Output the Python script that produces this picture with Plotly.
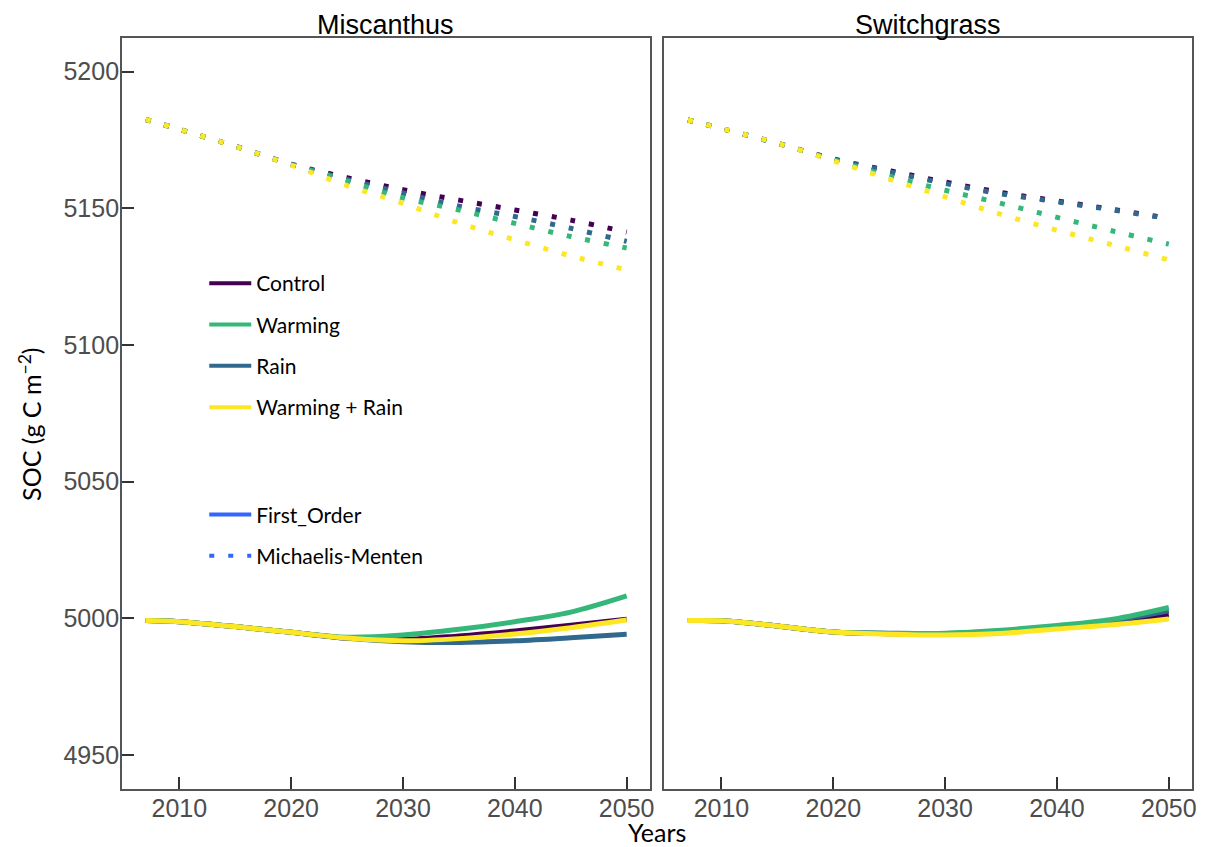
import plotly.graph_objects as go

# Simulation years
years = [2007, 2010, 2015, 2020, 2025, 2030, 2035, 2040, 2045, 2050]

treatments = ["Control", "Rain", "Warming", "Warming + Rain"]
legend_order = ["Control", "Warming", "Rain", "Warming + Rain"]
colors = {
    "Control": "#440154",
    "Rain": "#31688E",
    "Warming": "#35B779",
    "Warming + Rain": "#FDE725",
}

# Miscanthus, first-order kinetics (g C m-2)
misc_fo_control = [4999.2, 4998.8, 4997.0, 4994.9, 4992.8, 4992.3, 4993.6, 4995.4, 4997.5, 4999.7]
misc_fo_rain = [4999.2, 4998.8, 4997.0, 4994.9, 4992.7, 4991.5, 4991.2, 4991.8, 4992.9, 4994.2]
misc_fo_warming = [4999.2, 4998.8, 4997.0, 4994.9, 4993.1, 4993.9, 4996.0, 4998.8, 5002.3, 5008.2]
misc_fo_warmrain = [4999.2, 4998.8, 4997.0, 4994.9, 4992.8, 4991.8, 4992.6, 4994.3, 4996.6, 4999.4]

# Miscanthus, Michaelis-Menten kinetics
misc_mm_control = [5182.5, 5178.9, 5172.7, 5166.2, 5161.2, 5156.8, 5153.0, 5149.4, 5145.7, 5141.3]
misc_mm_rain = [5182.5, 5178.9, 5172.7, 5166.1, 5160.6, 5155.6, 5150.8, 5147.0, 5142.7, 5137.9]
misc_mm_warming = [5182.5, 5178.9, 5172.7, 5166.0, 5160.0, 5153.8, 5149.4, 5144.5, 5139.7, 5135.5]
misc_mm_warmrain = [5182.5, 5178.9, 5172.7, 5165.8, 5158.3, 5151.8, 5144.6, 5138.5, 5132.6, 5127.5]

# Switchgrass, first-order kinetics
swit_fo_control = [4999.2, 4999.1, 4997.2, 4995.0, 4994.4, 4994.3, 4995.0, 4996.6, 4998.5, 5001.3]
swit_fo_rain = [4999.2, 4999.1, 4997.2, 4995.0, 4994.6, 4994.5, 4995.4, 4997.0, 4999.2, 5002.8]
swit_fo_warming = [4999.2, 4999.1, 4997.2, 4995.0, 4994.5, 4994.6, 4995.7, 4997.4, 4999.7, 5004.0]
swit_fo_warmrain = [4999.2, 4999.1, 4997.2, 4995.0, 4994.2, 4993.9, 4994.5, 4996.1, 4997.7, 4999.8]

# Switchgrass, Michaelis-Menten kinetics
swit_mm_control = [5182.3, 5179.2, 5173.8, 5168.1, 5163.8, 5159.6, 5155.8, 5152.7, 5149.6, 5146.3]
swit_mm_rain = [5182.3, 5179.2, 5173.8, 5168.0, 5163.4, 5159.1, 5155.3, 5152.4, 5149.4, 5146.2]
swit_mm_warming = [5182.3, 5179.2, 5173.8, 5167.8, 5161.8, 5156.6, 5151.8, 5146.7, 5141.7, 5136.9]
swit_mm_warmrain = [5182.3, 5179.2, 5173.8, 5167.4, 5160.7, 5154.2, 5147.8, 5142.0, 5136.6, 5131.1]

panels = {
    "x": {
        "First_Order": dict(zip(treatments, [misc_fo_control, misc_fo_rain, misc_fo_warming, misc_fo_warmrain])),
        "Michaelis-Menten": dict(zip(treatments, [misc_mm_control, misc_mm_rain, misc_mm_warming, misc_mm_warmrain])),
    },
    "x2": {
        "First_Order": dict(zip(treatments, [swit_fo_control, swit_fo_rain, swit_fo_warming, swit_fo_warmrain])),
        "Michaelis-Menten": dict(zip(treatments, [swit_mm_control, swit_mm_rain, swit_mm_warming, swit_mm_warmrain])),
    },
}
panel_titles = ["Miscanthus", "Switchgrass"]

x_ticks = [2010, 2020, 2030, 2040, 2050]
y_ticks = [4950, 5000, 5050, 5100, 5150, 5200]

DOT = "5px,14px"
LINE_W = 5

fig = go.Figure()

for xa, models in panels.items():
    ya = "y" if xa == "x" else "y2"
    for model, dash in [("Michaelis-Menten", DOT), ("First_Order", "solid")]:
        for t in treatments:
            fig.add_trace(go.Scatter(
                x=years, y=models[model][t], xaxis=xa, yaxis=ya,
                mode="lines", line=dict(color=colors[t], width=LINE_W, dash=dash, shape="spline"),
                showlegend=False, hoverinfo="skip",
            ))

# Legend entries: treatment colours
for t in legend_order:
    fig.add_trace(go.Scatter(
        x=[None], y=[None], mode="lines", name=t,
        line=dict(color=colors[t], width=4), legend="legend", legendgroup=t,
    ))
# Legend entries: model line types
for model, dash in [("First_Order", "solid"), ("Michaelis-Menten", DOT)]:
    fig.add_trace(go.Scatter(
        x=[None], y=[None], mode="lines", name=model,
        line=dict(color="#3366FF", width=4, dash=dash), legend="legend2", legendgroup=model,
    ))

tick_font = dict(family="Liberation Sans Narrow, Liberation Sans, Arial, sans-serif", size=25, color="#4D4D4D")
axis_common = dict(
    showline=True, mirror=True, linecolor="#555555", linewidth=1.5,
    showgrid=False, zeroline=False,
    ticks="inside", ticklen=12, tickwidth=2, tickcolor="#333333",
    tickfont=tick_font, ticklabelstandoff=-4,
)
x_range = [2004.86, 2052.05]
y_range = [4937.6, 5212.2]

legend_font = dict(family="Lato, sans-serif", size=21, color="black")

fig.update_layout(
    width=1210, height=847, autosize=False,
    margin=dict(l=0, r=0, t=0, b=0),
    paper_bgcolor="white", plot_bgcolor="white",
    xaxis=dict(domain=[0.1011, 0.5391], range=x_range, tickvals=x_ticks, anchor="y", **axis_common),
    xaxis2=dict(domain=[0.551, 0.989], range=x_range, tickvals=x_ticks, anchor="y2", **axis_common),
    yaxis=dict(domain=[0.0685, 0.9548], range=y_range, tickvals=y_ticks, anchor="x", **axis_common),
    yaxis2=dict(domain=[0.0685, 0.9548], range=y_range, tickvals=y_ticks, anchor="x2",
                showticklabels=False, **{**axis_common, "ticks": ""}),
    legend=dict(
        x=0.1695, y=0.6894, xanchor="left", yanchor="top",
        font=legend_font, bgcolor="rgba(0,0,0,0)", tracegroupgap=11, itemwidth=42,
        traceorder="grouped",
    ),
    legend2=dict(
        x=0.1695, y=0.4164, xanchor="left", yanchor="top",
        font=legend_font, bgcolor="rgba(0,0,0,0)", tracegroupgap=11, itemwidth=42,
        traceorder="grouped",
    ),
)

title_font = dict(family="Liberation Sans Narrow, Liberation Sans, Arial, sans-serif", size=27, color="black")
for title, xc in zip(panel_titles, [(0.1011 + 0.5391) / 2, (0.551 + 0.989) / 2]):
    fig.add_annotation(text=title, x=xc, y=1 - 25 / 847, xref="paper", yref="paper",
                       showarrow=False, font=title_font, xanchor="center", yanchor="middle")

fig.add_annotation(text="Years", x=660 / 1210, y=1 - 832 / 847, xref="paper", yref="paper",
                   showarrow=False, font=dict(family="Lato, sans-serif", size=25, color="black"),
                   xanchor="center", yanchor="middle")
fig.add_annotation(text="SOC (g C m<sup>\u22122</sup>)", x=30 / 1210, y=1 - 424 / 847,
                   xref="paper", yref="paper", textangle=-90, showarrow=False,
                   font=dict(family="Lato, sans-serif", size=25, color="black"),
                   xanchor="center", yanchor="middle")

fig.write_html("out.html")
